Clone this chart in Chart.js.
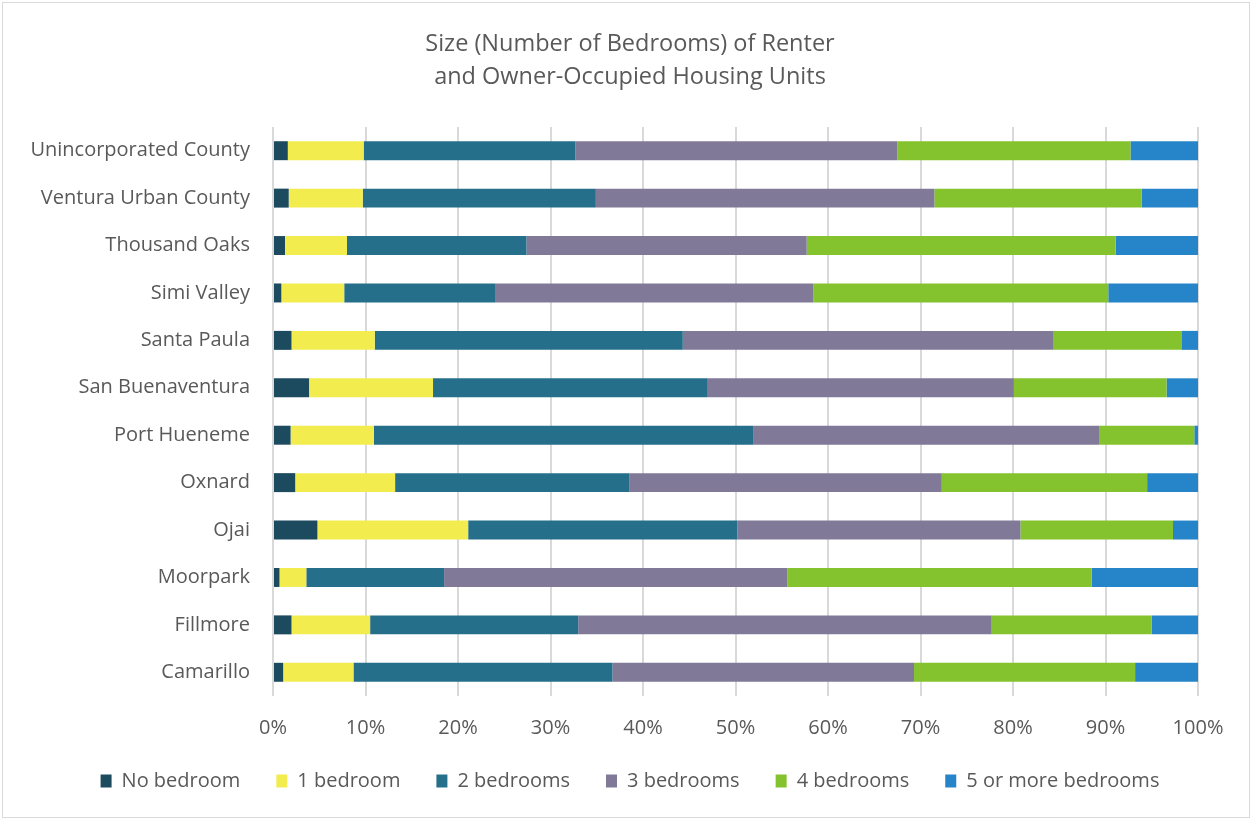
<!DOCTYPE html>
<html>
<head>
<meta charset="utf-8">
<script src="https://cdn.jsdelivr.net/npm/chart.js@4"></script>
<style>
  html, body { margin: 0; padding: 0; background: #ffffff; }
  #wrap {
    position: absolute; left: 2px; top: 2px;
    width: 1246px; height: 814px;
    border: 1px solid #d9d9d9;
  }
</style>
</head>
<body>
<div id="wrap"><canvas id="chart"></canvas></div>
<script>
// places, top to bottom as listed
const places = [
  "Unincorporated County", "Ventura Urban County", "Thousand Oaks", "Simi Valley",
  "Santa Paula", "San Buenaventura", "Port Hueneme", "Oxnard", "Ojai",
  "Moorpark", "Fillmore", "Camarillo"
];

// share of housing units by bedroom count (%)
const noBedroom   = [1.6, 1.7, 1.3, 0.9, 2.0, 3.9, 1.9, 2.4, 4.8, 0.7, 2.0, 1.1];
const oneBedroom  = [8.2, 8.0, 6.7, 6.8, 9.0, 13.4, 9.0, 10.8, 16.3, 2.9, 8.5, 7.6];
const twoBedrooms = [22.9, 25.2, 19.4, 16.3, 33.3, 29.7, 41.0, 25.3, 29.1, 14.9, 22.5, 28.0];
const threeBedrooms = [34.8, 36.6, 30.3, 34.4, 40.1, 33.1, 37.4, 33.8, 30.6, 37.1, 44.7, 32.6];
const fourBedrooms  = [25.2, 22.4, 33.4, 31.9, 13.8, 16.5, 10.3, 22.2, 16.5, 32.9, 17.3, 23.9];
const fivePlus      = [7.3, 6.1, 8.9, 9.7, 1.8, 3.4, 0.4, 5.5, 2.7, 11.5, 5.0, 6.8];

const seriesNames = ["No bedroom", "1 bedroom", "2 bedrooms", "3 bedrooms", "4 bedrooms", "5 or more bedrooms"];
const seriesColors = ["#1c4a5e", "#f3ec4e", "#256f8a", "#807a98", "#84c22e", "#2684c8"];
const seriesValues = [noBedroom, oneBedroom, twoBedrooms, threeBedrooms, fourBedrooms, fivePlus];

const FONT = "'Open Sans', sans-serif";
const GREY = "#595959";

const datasets = seriesNames.map((name, i) => ({
  label: name,
  data: seriesValues[i],
  backgroundColor: seriesColors[i],
  borderWidth: 0,
  barPercentage: 0.4,
  categoryPercentage: 1.0,
}));

new Chart(document.getElementById("chart"), {
  type: "bar",
  data: { labels: places, datasets },
  options: {
    indexAxis: "y",
    responsive: true,
    maintainAspectRatio: false,
    animation: false,
    layout: { padding: { left: 8, right: 0, top: 0, bottom: 16 } },
    plugins: {
      title: {
        display: true,
        text: ["Size (Number of Bedrooms) of Renter", "and Owner-Occupied Housing Units"],
        color: GREY,
        font: { family: FONT, size: 23.5, weight: "normal", lineHeight: "33px" },
        padding: { top: 25, bottom: 33 },
      },
      legend: {
        position: "bottom",
        labels: {
          color: GREY,
          font: { family: FONT, size: 20, lineHeight: 1 },
          boxWidth: 11,
          boxHeight: 13,
          padding: 36,
        },
      },
      tooltip: { enabled: false },
    },
    scales: {
      x: {
        stacked: true,
        min: 0,
        max: 100,
        // keep room on the right, and no extra gap under the tick labels
        afterFit: (scale) => {
          scale.paddingRight = 51;
          scale.height = 39;
        },
        ticks: {
          stepSize: 10,
          color: GREY,
          font: { family: FONT, size: 20, lineHeight: 1 },
          padding: 22,
          callback: (v) => v + "%",
        },
        grid: { color: "#d9d9d9", lineWidth: 2, drawTicks: false },
        border: { display: false },
      },
      y: {
        stacked: true,
        afterFit: (scale) => { scale.width = 262; },
        ticks: {
          color: GREY,
          font: { family: FONT, size: 20 },
          padding: 23,
        },
        grid: { display: false, drawTicks: false },
        border: { display: false },
      },
    },
  },
});
</script>
</body>
</html>
